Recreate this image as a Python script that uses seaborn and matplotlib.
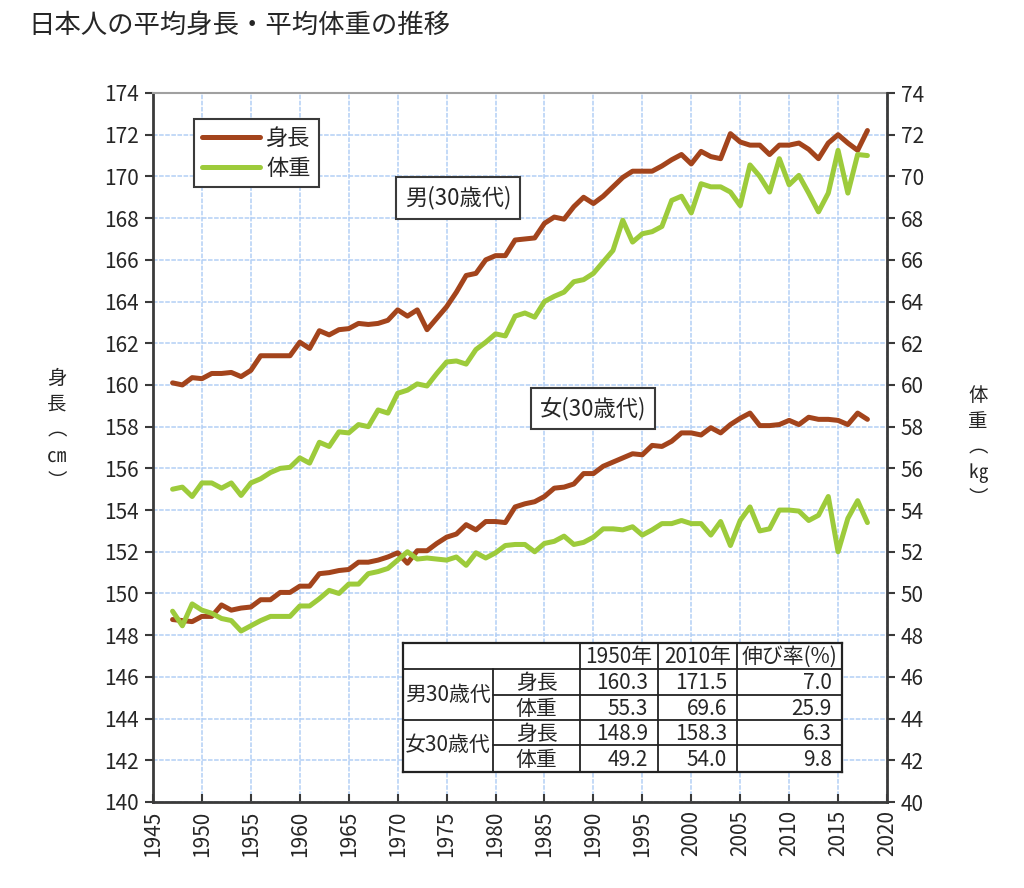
import matplotlib
matplotlib.use('Agg')
import matplotlib.pyplot as plt
import seaborn as sns

# years 1947-2018
years = list(range(1947, 2019))

# 男30歳代 身長 (cm)
male_height = [
    160.1, 160.0, 160.35,
    160.3, 160.55, 160.55, 160.6, 160.4, 160.7, 161.4, 161.4, 161.4, 161.4,
    162.05, 161.75, 162.6, 162.4, 162.65, 162.7, 162.95, 162.9, 162.95, 163.1,
    163.6, 163.3, 163.6, 162.65, 163.2, 163.75, 164.45, 165.25, 165.35, 166.0,
    166.2, 166.2, 166.95, 167.0, 167.05, 167.75, 168.05, 167.95, 168.55, 169.0,
    168.7, 169.05, 169.5, 169.95, 170.25, 170.25, 170.25, 170.5, 170.8, 171.05,
    170.6, 171.2, 170.95, 170.85, 172.05, 171.65, 171.5, 171.5, 171.05, 171.5,
    171.5, 171.6, 171.3, 170.85, 171.6, 172.0, 171.6, 171.25, 172.2,
]
# 男30歳代 体重 (kg)
male_weight = [
    55.0, 55.1, 54.65,
    55.3, 55.3, 55.05, 55.3, 54.7, 55.3, 55.5, 55.8, 56.0, 56.05,
    56.5, 56.25, 57.25, 57.05, 57.75, 57.7, 58.1, 58.0, 58.8, 58.65,
    59.6, 59.75, 60.05, 59.95, 60.55, 61.1, 61.15, 61.0, 61.7, 62.05,
    62.45, 62.35, 63.3, 63.45, 63.25, 64.0, 64.25, 64.45, 64.95, 65.05,
    65.35, 65.9, 66.45, 67.9, 66.85, 67.25, 67.35, 67.6, 68.85, 69.05,
    68.25, 69.65, 69.5, 69.5, 69.25, 68.6, 70.55, 70.0, 69.25, 70.85,
    69.6, 70.05, 69.2, 68.3, 69.2, 71.25, 69.2, 71.05, 71.0,
]
# 女30歳代 身長 (cm)
female_height = [
    148.75, 148.7, 148.65,
    148.9, 148.9, 149.45, 149.2, 149.3, 149.35, 149.7, 149.7, 150.05, 150.05,
    150.35, 150.35, 150.95, 151.0, 151.1, 151.15, 151.5, 151.5, 151.6, 151.75,
    151.95, 151.45, 152.05, 152.05, 152.4, 152.7, 152.85, 153.3, 153.05, 153.45,
    153.45, 153.4, 154.15, 154.3, 154.4, 154.65, 155.05, 155.1, 155.25, 155.75,
    155.75, 156.1, 156.3, 156.5, 156.7, 156.65, 157.1, 157.05, 157.3, 157.7,
    157.7, 157.6, 157.95, 157.7, 158.1, 158.4, 158.65, 158.05, 158.05, 158.1,
    158.3, 158.1, 158.45, 158.35, 158.35, 158.3, 158.1, 158.65, 158.35,
]
# 女30歳代 体重 (kg)
female_weight = [
    49.15, 48.45, 49.5,
    49.2, 49.05, 48.8, 48.7, 48.2, 48.45, 48.7, 48.9, 48.9, 48.9,
    49.4, 49.4, 49.75, 50.15, 50.0, 50.45, 50.45, 50.95, 51.05, 51.2,
    51.6, 52.0, 51.65, 51.7, 51.65, 51.6, 51.75, 51.35, 51.95, 51.7,
    51.95, 52.3, 52.35, 52.35, 52.0, 52.4, 52.5, 52.75, 52.35, 52.45,
    52.7, 53.1, 53.1, 53.05, 53.2, 52.8, 53.05, 53.35, 53.35, 53.5,
    53.35, 53.35, 52.8, 53.45, 52.3, 53.5, 54.15, 53.0, 53.1, 54.0,
    54.0, 53.95, 53.5, 53.75, 54.65, 52.0, 53.6, 54.45, 53.4,
]

# summary table
table_header = ['1950年', '2010年', '伸び率(%)']
table_groups = ['男30歳代', '女30歳代']
table_items = ['身長', '体重']
table_values = [
    ['160.3', '171.5', '7.0'],
    ['55.3', '69.6', '25.9'],
    ['148.9', '158.3', '6.3'],
    ['49.2', '54.0', '9.8'],
]

BROWN = '#a3441c'
GREEN = '#9dcb3b'
GRID = '#b3cff5'
AXIS = '#3a3a3a'

sns.set_style('white')
plt.rcParams['font.family'] = ['Noto Sans CJK JP', 'DejaVu Sans']

W, H = 1024, 888
fig = plt.figure(figsize=(W / 100, H / 100), dpi=100)
ax = fig.add_axes([153 / W, 1 - 802 / H, 734 / W, 709 / H])
ax2 = ax.twinx()

sns.lineplot(x=years, y=male_height, ax=ax, color=BROWN, lw=3.6)
sns.lineplot(x=years, y=female_height, ax=ax, color=BROWN, lw=3.6)
sns.lineplot(x=years, y=male_weight, ax=ax2, color=GREEN, lw=3.6)
sns.lineplot(x=years, y=female_weight, ax=ax2, color=GREEN, lw=3.6)

ax.set_xlim(1945, 2020)
ax.set_ylim(140, 174)
ax2.set_ylim(40, 74)
ax.set_xticks(range(1945, 2021, 5))
ax.set_yticks(range(140, 175, 2))
ax2.set_yticks(range(40, 75, 2))
ax.set_xlabel('')
ax.set_ylabel('')
ax2.set_ylabel('')

ax.grid(True, color=GRID, lw=1.1, ls=(0, (3, 1)))
ax.set_axisbelow(True)
ax2.grid(False)

ax.tick_params(axis='y', direction='out', length=6, width=1.5, color=AXIS,
               labelsize=15, pad=4, left=True)
ax.tick_params(axis='x', direction='in', length=6, width=1.5, color=AXIS,
               labelsize=15, labelrotation=90, pad=6, bottom=True)
ax2.tick_params(axis='y', direction='out', length=6, width=1.5, color=AXIS,
                labelsize=15, pad=4, right=True)

for name, sp in ax.spines.items():
    sp.set_visible(name != 'right')
    sp.set_color(AXIS)
    sp.set_linewidth(2)
ax.spines['top'].set_color('#a0a0a0')
ax.spines['top'].set_linewidth(1.5)
for name, sp in ax2.spines.items():
    sp.set_visible(name == 'right')
    sp.set_color(AXIS)
    sp.set_linewidth(2)

# legend
leg = ax2.legend(handles=[ax.lines[0], ax2.lines[0]], labels=table_items,
                 loc='upper left', bbox_to_anchor=(0.056, 0.963), borderaxespad=0,
                 fontsize=16, handlelength=2.6, handletextpad=0.3,
                 borderpad=0.35, labelspacing=0.3, fancybox=False, framealpha=1)
leg.get_frame().set_edgecolor(AXIS)
leg.get_frame().set_linewidth(1.5)

box = dict(boxstyle='square,pad=0.4', facecolor='white', edgecolor=AXIS, lw=1.5)
ax2.text(0.4155, 0.852, '男(30歳代)', transform=ax2.transAxes, fontsize=16,
         ha='center', va='center', bbox=box)
ax2.text(0.5995, 0.555, '女(30歳代)', transform=ax2.transAxes, fontsize=16,
         ha='center', va='center', bbox=box)

# title and vertical axis labels
fig.text(28 / W, 1 - 25 / H, '日本人の平均身長・平均体重の推移', fontsize=19,
         ha='left', va='center')
fig.text(57 / W, 1 - 430 / H, '身\n長\n︵\n㎝\n︶', fontsize=14, ha='center',
         va='center', linespacing=1.3)
fig.text(978 / W, 1 - 447 / H, '体\n重\n︵\n㎏\n︶', fontsize=14, ha='center',
         va='center', linespacing=1.3)

# table drawn in its own small axes
tw, th = 439, 129
axt = fig.add_axes([403 / W, 1 - 772 / H, tw / W, th / H])
axt.set_facecolor('white')
axt.set_xlim(0, tw)
axt.set_ylim(th, 0)
axt.set_xticks([])
axt.set_yticks([])
for sp in axt.spines.values():
    sp.set_visible(True)
    sp.set_color('#222222')
    sp.set_linewidth(1.6)

cols = [0, 90, 177, 255, 334, tw]
rows = [0, 26, 52, 77, 102, th]
lk = dict(color='#222222', lw=1.3)
axt.plot([0, tw], [rows[1]] * 2, **lk)
axt.plot([0, tw], [rows[3]] * 2, **lk)
axt.plot([cols[1], tw], [rows[2]] * 2, **lk)
axt.plot([cols[1], tw], [rows[4]] * 2, **lk)
axt.plot([cols[1]] * 2, [rows[1], th], **lk)
for c in cols[2:5]:
    axt.plot([c] * 2, [0, th], **lk)

fs = 15
for j, txt in enumerate(table_header):
    axt.text((cols[j + 2] + cols[j + 3]) / 2, rows[1] / 2 + 1, txt, fontsize=fs,
             ha='center', va='center')
for g, grp in enumerate(table_groups):
    axt.text(cols[1] / 2, rows[2 * g + 2], grp, fontsize=fs, ha='center', va='center')
    for k, item in enumerate(table_items):
        r = 2 * g + k
        yc = (rows[r + 1] + rows[r + 2]) / 2 + 1
        axt.text((cols[1] + cols[2]) / 2, yc, item, fontsize=fs, ha='center', va='center')
        for j, val in enumerate(table_values[r]):
            axt.text(cols[j + 3] - 10, yc, val, fontsize=fs, ha='right', va='center')

fig.savefig('out.png', dpi=100, facecolor='white')
